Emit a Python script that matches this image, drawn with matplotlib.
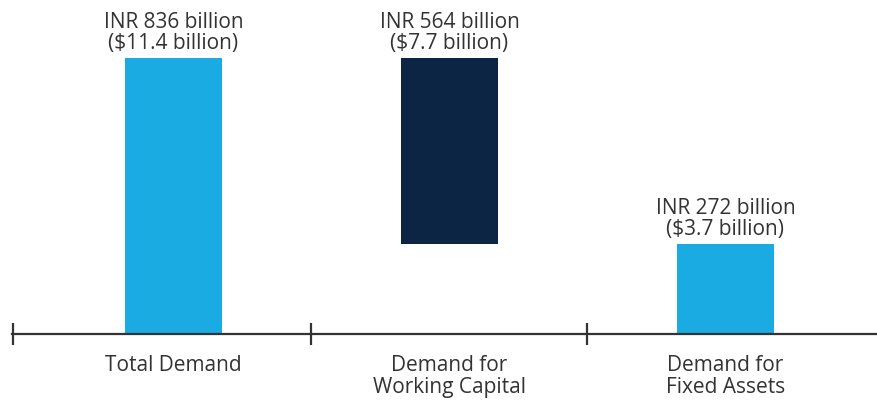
import matplotlib
matplotlib.use("Agg")
import matplotlib.pyplot as plt

plt.rcParams['font.family'] = ['Open Sans', 'DejaVu Sans']

categories = ["Total Demand", "Demand for\nWorking Capital", "Demand for\nFixed Assets"]
inr_billion = [836, 564, 272]
usd_billion = [11.4, 7.7, 3.7]
# bar bottoms: total and fixed assets start at zero, working capital floats on top of fixed assets
bar_bottoms = [0, 272, 0]
bar_colors = ["#19abe2", "#0d2545", "#19abe2"]

W, H = 878, 403
fig = plt.figure(figsize=(W / 100, H / 100), dpi=100)
x0, x1 = 12, 878
ybase = 334
ax = fig.add_axes([x0 / W, 1 - ybase / H, (x1 - x0) / W, ybase / H])

pitch = 276.0
c0 = 173.5
ax.set_xlim((x0 - c0) / pitch, (x1 - c0) / pitch)
ax.set_ylim(0, ybase / 276.0 * 836)

xs = list(range(len(categories)))
ax.bar(xs, inr_billion, bottom=bar_bottoms, width=97 / pitch, color=bar_colors, zorder=2)

for x, v, b, u in zip(xs, inr_billion, bar_bottoms, usd_billion):
    ax.annotate(f"INR {v} billion\n(${u} billion)", xy=(x, v + b), xytext=(0, 3),
                textcoords="offset points", ha="center", va="bottom",
                fontsize=15, color="#333333", linespacing=1.0)

for s in ["top", "right", "left"]:
    ax.spines[s].set_visible(False)
ax.spines["bottom"].set_color("#333333")
ax.spines["bottom"].set_linewidth(1.6)
ax.spines["bottom"].set_zorder(3)
ax.set_yticks([])

left_edge = (x0 - c0) / pitch
ax.set_xticks([left_edge + 0.002, 0.5, 1.5])
ax.set_xticklabels([])
ax.tick_params(axis="x", direction="inout", length=16, width=1.6, color="#333333")

for x, c in zip(xs, categories):
    ax.annotate(c, xy=(x, 0), xytext=(0, -15), textcoords="offset points",
                ha="center", va="top", fontsize=15, color="#333333", linespacing=1.05)

fig.savefig("out.png", dpi=100)
